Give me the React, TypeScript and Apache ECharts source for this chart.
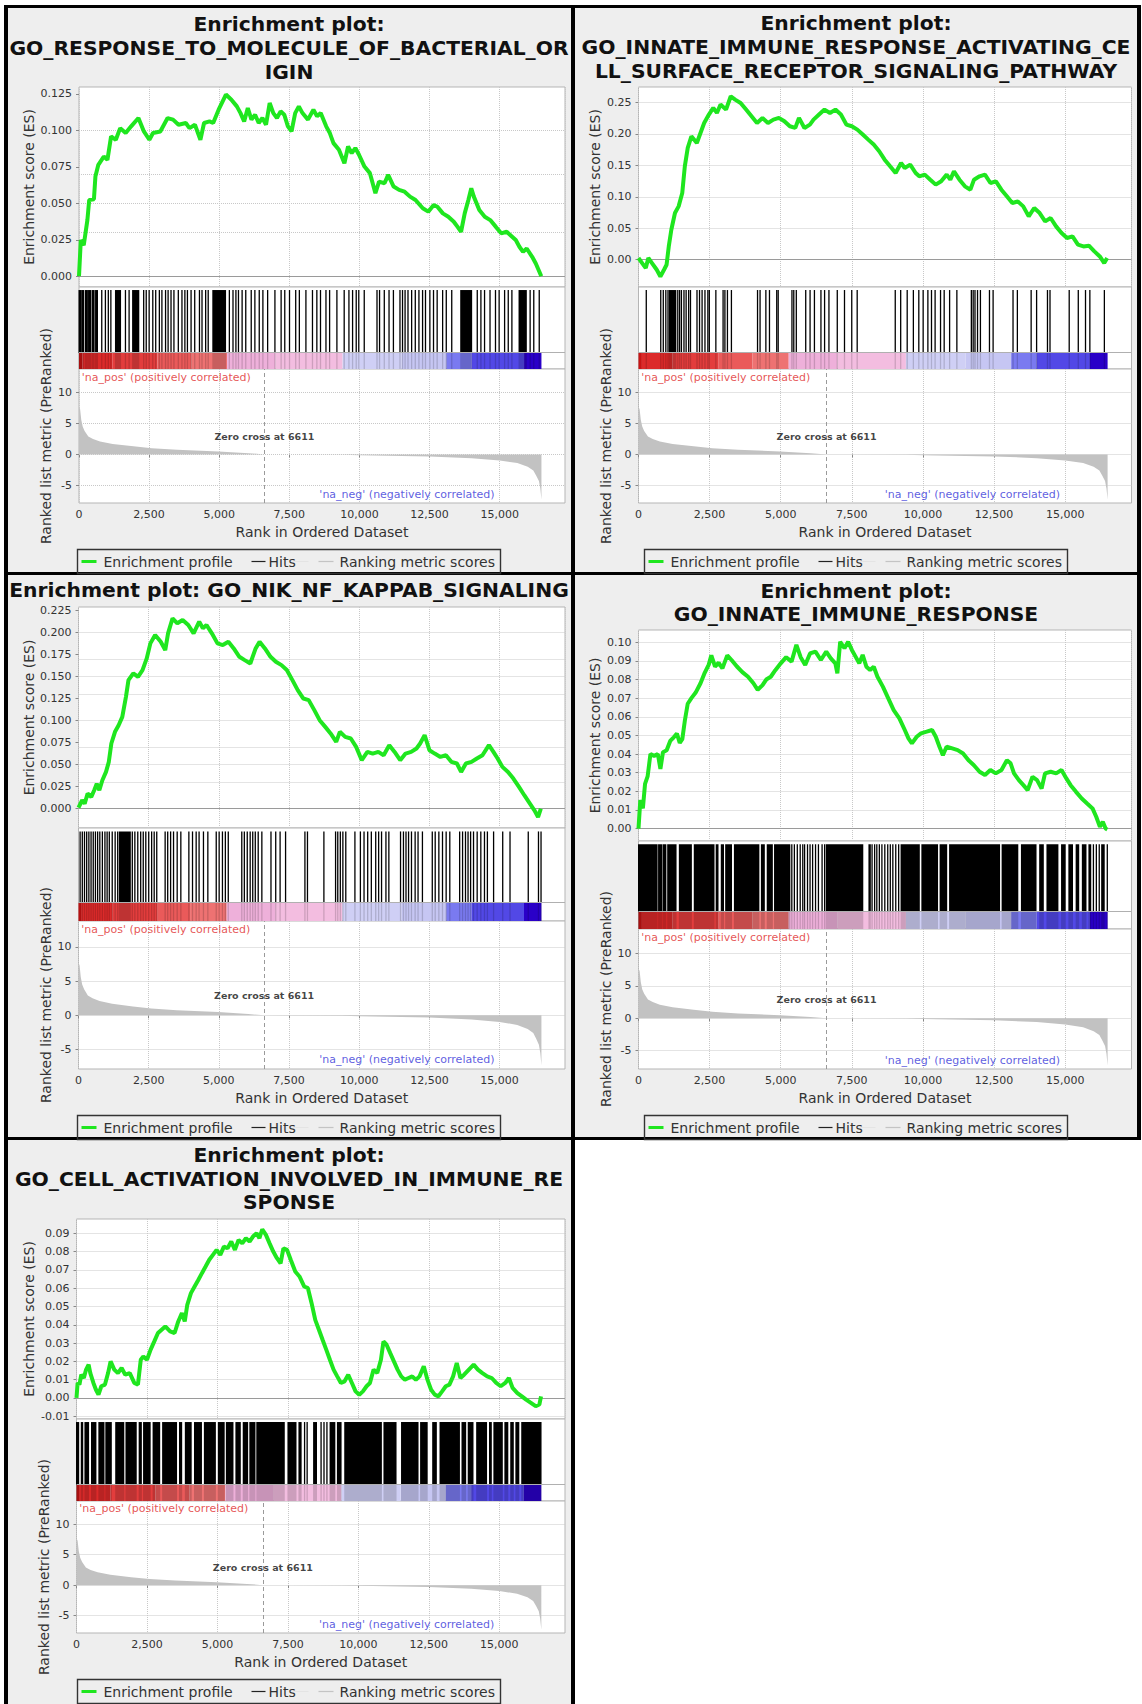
import React, { useEffect, useRef } from 'react';
import * as echarts from 'echarts';

const FONT = "'DejaVu Sans', 'Liberation Sans', sans-serif";
const GREEN = '#1fe61f';
const GRID_LINE = '#c8c8c8';
const TEXT = '#333333';

const X_MAX = 17330;
const X_TICKS = [0, 2500, 5000, 7500, 10000, 12500, 15000];
const RANK_RANGE = [-7.85, 13.8];
const RANK_TICKS = [-5, 0, 5, 10];
const ZERO_CROSS = 6611;

// ranked list metric (same ranking in every plot)
const METRIC_RANK = [0, 40, 80, 131, 200, 333, 500, 750, 1200, 1940, 2595, 3500, 4976, 6048, 6611, 7500, 9400, 10000, 11000, 12500, 14000, 15000, 15630, 16000, 16200, 16300, 16400, 16450, 16490];
const METRIC_VALUE = [7.7, 7.3, 5.6, 4.5, 3.8, 2.9, 2.5, 2.1, 1.7, 1.3, 1.0, 0.75, 0.48, 0.2, 0, -0.01, -0.05, -0.12, -0.2, -0.32, -0.6, -0.97, -1.4, -2.0, -2.6, -3.4, -4.3, -5.5, -7.3];

// colour bar of the ranked list
const BAR_FROM = [0, 120, 1200, 2800, 4000, 5280, 7000, 9400, 11500, 13100, 14000, 15870];
const BAR_TO = [120, 1200, 2800, 4000, 5280, 7000, 9400, 11500, 13100, 14000, 15870, 16490];
const BAR_COLORS = ['#c81414', '#dc2a2a', '#e33d3d', '#ea5a5a', '#ee7272', '#eeb0da', '#f3bde0', '#cfcff5', '#c6c6f3', '#7a7af0', '#5248e6', '#2a00c8'];

const NA_POS_TEXT = "'na_pos' (positively correlated)";
const NA_NEG_TEXT = "'na_neg' (negatively correlated)";
const ZERO_TEXT = 'Zero cross at ' + ZERO_CROSS;

// ---------- panel 1
const P1_TITLE = ['Enrichment plot:', 'GO_RESPONSE_TO_MOLECULE_OF_BACTERIAL_OR', 'IGIN'];
const P1_RANGE = [-0.0074, 0.1298];
const P1_TICKS = [0, 0.025, 0.05, 0.075, 0.1, 0.125];
const P1_CURVE = [[0,0],[65,0.0248],[169,0.0213],[299,0.0385],[364,0.0523],[533,0.0528],[585,0.0684],[689,0.0764],[884,0.0821],[1014,0.0798],[1144,0.0959],[1313,0.0936],[1469,0.1016],[1664,0.0982],[1859,0.1028],[2119,0.1085],[2314,0.0993],[2509,0.0936],[2639,0.0982],[2899,0.0993],[3159,0.1085],[3354,0.1074],[3549,0.1039],[3809,0.1051],[3939,0.1016],[4134,0.1039],[4329,0.0936],[4459,0.1051],[4654,0.1062],[4784,0.1051],[4979,0.1142],[5239,0.1246],[5434,0.1211],[5629,0.1165],[5759,0.1119],[5889,0.1062],[6019,0.1154],[6149,0.1074],[6279,0.1108],[6409,0.1051],[6539,0.1085],[6669,0.1039],[6799,0.1188],[6929,0.1119],[7059,0.1085],[7189,0.1131],[7319,0.1108],[7449,0.1028],[7579,0.0993],[7709,0.1119],[7839,0.1165],[7969,0.1119],[8164,0.1074],[8359,0.1142],[8489,0.1097],[8619,0.1119],[8814,0.1028],[8944,0.0982],[9074,0.0913],[9269,0.0867],[9464,0.0775],[9594,0.089],[9724,0.0844],[9854,0.0879],[9984,0.0833],[10179,0.0752],[10374,0.0707],[10569,0.0569],[10699,0.0649],[10894,0.0638],[11024,0.0695],[11219,0.0615],[11414,0.0592],[11609,0.058],[11804,0.0546],[11999,0.0523],[12259,0.0466],[12454,0.0443],[12649,0.0489],[12779,0.0477],[12974,0.0431],[13169,0.0408],[13364,0.0374],[13494,0.034],[13624,0.0305],[13754,0.0431],[13884,0.0523],[13988,0.0603],[14079,0.0546],[14274,0.0454],[14469,0.0408],[14664,0.0385],[14859,0.034],[15054,0.0294],[15249,0.0305],[15444,0.0271],[15574,0.0248],[15704,0.0202],[15834,0.0167],[15964,0.019],[16159,0.0133],[16289,0.0087],[16393,0.0041],[16484,0]];
const P1_HITS = [[0,80],[110,170],[230,300],[340,420],[470,540],[590,660],806,936,1040,1131,[1300,1482],1651,1781,[1911,2132],2301,2392,2496,2626,2730,2860,2951,3081,3172,3276,3380,3536,3666,3770,3861,3991,4121,4290,4381,4511,4602,[4771,5226],5356,5486,5590,5681,5811,5941,6136,6266,6422,6552,6721,6981,7202,7332,7501,7722,7852,8086,8320,8476,8606,8801,8931,9191,9451,9620,9750,9880,9971,10166,10621,10712,10881,11050,11206,11440,11531,11622,11726,11856,11986,12116,12246,12350,12506,12636,12766,12961,13091,13286,[13611,14001],14196,14326,14456,14651,14846,14976,15171,15301,15431,[15691,15951],16081,16211,16406];

// ---------- panel 2
const P2_TITLE = ['Enrichment plot:', 'GO_INNATE_IMMUNE_RESPONSE_ACTIVATING_CE', 'LL_SURFACE_RECEPTOR_SIGNALING_PATHWAY'];
const P2_RANGE = [-0.0433, 0.2744];
const P2_TICKS = [0, 0.05, 0.1, 0.15, 0.2, 0.25];
const P2_CURVE = [[0,0.0027],[128,-0.0053],[256,-0.0133],[346,0.0027],[474,-0.0053],[641,-0.0159],[769,-0.0265],[897,-0.0159],[987,-0.008],[1064,0.0212],[1154,0.0477],[1282,0.0742],[1410,0.0848],[1538,0.106],[1628,0.1484],[1731,0.1776],[1859,0.1961],[2051,0.1855],[2179,0.2014],[2308,0.2173],[2474,0.2306],[2628,0.2412],[2756,0.2332],[2884,0.2465],[3077,0.2385],[3243,0.2597],[3397,0.2544],[3589,0.2491],[3782,0.2385],[3974,0.2279],[4166,0.2173],[4358,0.2253],[4551,0.2173],[4743,0.2226],[4935,0.2253],[5128,0.22],[5320,0.212],[5512,0.2094],[5641,0.2253],[5833,0.2094],[6025,0.2147],[6153,0.2226],[6346,0.2306],[6538,0.2385],[6730,0.2332],[6922,0.2385],[7115,0.2306],[7307,0.2147],[7499,0.212],[7692,0.2067],[7884,0.1988],[8076,0.1908],[8268,0.1829],[8461,0.1723],[8653,0.159],[8845,0.1484],[9038,0.1378],[9230,0.1537],[9358,0.1458],[9551,0.1511],[9743,0.1378],[9871,0.1325],[10063,0.1352],[10256,0.1272],[10448,0.1193],[10640,0.1246],[10833,0.1352],[10961,0.1272],[11089,0.1405],[11282,0.1272],[11474,0.1166],[11666,0.1113],[11794,0.1272],[11987,0.1325],[12179,0.1352],[12371,0.1219],[12564,0.1246],[12756,0.1113],[12948,0.1007],[13140,0.0901],[13333,0.0927],[13525,0.0848],[13717,0.0689],[13910,0.0822],[14102,0.0742],[14294,0.061],[14486,0.0663],[14679,0.053],[14871,0.0424],[15063,0.0345],[15256,0.0371],[15448,0.0239],[15640,0.0212],[15832,0.0223],[16025,0.0133],[16217,0.0053],[16371,-0.0053],[16474,0.0027]];
const P2_HITS = [268,777,866,955,1032,[1083,1312],1376,1440,1503,1593,1669,1758,1822,2051,2140,2230,2331,2433,2484,2714,2968,3032,3121,3261,4179,4268,4472,4599,4854,4905,5389,5453,5542,5873,6026,6179,6408,6536,6689,6982,7236,7491,7682,9020,9211,9440,9657,9848,10001,10167,10294,10421,10612,10740,10931,11186,11695,11759,11823,11912,12014,12332,12460,13160,13313,13797,13989,14371,14460,15135,15454,15708,15861,16371];

// ---------- panel 3
const P3_TITLE = ['Enrichment plot: GO_NIK_NF_KAPPAB_SIGNALING'];
const P3_RANGE = [-0.022, 0.2289];
const P3_TICKS = [0, 0.025, 0.05, 0.075, 0.1, 0.125, 0.15, 0.175, 0.2, 0.225];
const P3_CURVE = [[0,0.0011],[130,0.0095],[221,0.0057],[325,0.0171],[455,0.0133],[560,0.0209],[650,0.0284],[742,0.0209],[850,0.0322],[980,0.0417],[1080,0.0531],[1170,0.0739],[1300,0.0872],[1430,0.0947],[1560,0.1042],[1690,0.1269],[1780,0.1459],[1950,0.1535],[2120,0.1497],[2280,0.1573],[2430,0.1705],[2560,0.1876],[2730,0.1971],[2930,0.1895],[3090,0.18],[3190,0.199],[3350,0.2161],[3520,0.2104],[3710,0.2142],[3910,0.2085],[4100,0.199],[4300,0.2123],[4430,0.2047],[4560,0.2085],[4750,0.199],[4950,0.1876],[5140,0.1857],[5340,0.1895],[5530,0.1819],[5730,0.1724],[5920,0.1686],[6120,0.1648],[6310,0.1819],[6450,0.1895],[6640,0.1819],[6840,0.1724],[7030,0.1667],[7230,0.1629],[7420,0.1573],[7620,0.1459],[7810,0.1345],[8010,0.125],[8200,0.1232],[8400,0.1118],[8590,0.1004],[8790,0.0928],[8980,0.0853],[9180,0.0758],[9310,0.0872],[9500,0.0815],[9700,0.0796],[9890,0.0701],[10090,0.055],[10290,0.0644],[10480,0.0625],[10680,0.0644],[10870,0.0606],[11070,0.072],[11260,0.0644],[11460,0.055],[11650,0.0625],[11850,0.0644],[12040,0.0682],[12170,0.0739],[12330,0.0834],[12500,0.0663],[12690,0.0625],[12890,0.0587],[13090,0.0606],[13280,0.0531],[13480,0.0512],[13630,0.0417],[13800,0.0512],[14000,0.0531],[14190,0.0569],[14390,0.0606],[14620,0.072],[14780,0.0644],[14930,0.0569],[15100,0.0474],[15300,0.0417],[15490,0.0341],[15690,0.0246],[15880,0.0152],[16080,0.0057],[16240,-0.0019],[16370,-0.0095],[16470,0]];
const P3_HITS = [52,130,208,286,364,442,520,598,676,754,845,936,1014,1092,1196,1300,1391,[1456,1846],1911,2002,2106,2210,2301,2392,2496,2600,2691,2782,3081,3172,3276,3380,3510,3640,3926,4056,4186,4290,4446,4602,4901,5005,5122,5226,5330,5811,5902,6006,6110,6201,6292,6396,6526,6851,7020,7176,7371,8060,8151,8736,9152,9230,9321,9412,9516,9841,10036,10166,10296,10426,10582,10686,10790,10946,11050,11466,11570,11661,11752,11856,11986,12090,12246,12597,12701,12831,12961,13091,13221,13572,13676,13780,13871,13962,14066,14196,14326,14456,14560,14781,15106,15366,16016,16380,16471];

// ---------- panel 4
const P4_TITLE = ['Enrichment plot:', 'GO_INNATE_IMMUNE_RESPONSE'];
const P4_RANGE = [-0.0067, 0.1066];
const P4_TICKS = [0, 0.01, 0.02, 0.03, 0.04, 0.05, 0.06, 0.07, 0.08, 0.09, 0.1];
const P4_CURVE = [[0,0],[64,0.0152],[154,0.0108],[230,0.024],[320,0.028],[420,0.04],[550,0.039],[680,0.04],[770,0.032],[860,0.041],[990,0.042],[1115,0.047],[1240,0.049],[1350,0.051],[1450,0.046],[1540,0.048],[1630,0.058],[1730,0.067],[1860,0.07],[2010,0.073],[2180,0.078],[2310,0.083],[2470,0.088],[2560,0.093],[2690,0.087],[2820,0.089],[2950,0.086],[3120,0.093],[3270,0.0905],[3460,0.087],[3650,0.084],[3850,0.0815],[4040,0.078],[4190,0.0745],[4360,0.077],[4490,0.08],[4650,0.0815],[4810,0.085],[5000,0.0887],[5190,0.092],[5380,0.0896],[5550,0.0986],[5700,0.092],[5860,0.0878],[6030,0.094],[6220,0.095],[6410,0.0905],[6600,0.095],[6760,0.0914],[6920,0.0887],[6990,0.0833],[7090,0.1003],[7240,0.0968],[7370,0.1003],[7500,0.0959],[7630,0.0923],[7760,0.0887],[7880,0.0932],[8010,0.0869],[8140,0.0851],[8270,0.0869],[8400,0.0815],[8590,0.0762],[8780,0.0699],[8970,0.0636],[9170,0.0591],[9360,0.0529],[9490,0.0484],[9610,0.0457],[9780,0.0493],[9930,0.0511],[10130,0.052],[10320,0.0529],[10450,0.0493],[10580,0.0439],[10700,0.0394],[10830,0.0439],[11030,0.043],[11220,0.0421],[11410,0.0403],[11600,0.0367],[11790,0.034],[11990,0.0305],[12180,0.0287],[12370,0.0314],[12560,0.0296],[12760,0.0314],[12950,0.0367],[13080,0.035],[13200,0.0296],[13370,0.026],[13530,0.0233],[13680,0.0206],[13850,0.0278],[14010,0.026],[14170,0.0215],[14290,0.0296],[14490,0.0305],[14680,0.0296],[14870,0.0314],[15040,0.0269],[15190,0.0233],[15380,0.0197],[15580,0.0161],[15770,0.0134],[15960,0.0108],[16090,0.0063],[16220,0.0009],[16320,0.0036],[16420,0],[16480,-0.0005]];
const P4_HITS = [[0,654],[705,808],[859,962],[1026,1320],[1436,1859],[1961,2654],[2731,2795],[2910,2987],[3064,3269],[3372,4231],[4320,4423],[4525,4705],[4782,5320],5384,5474,5577,5679,5769,5833,5936,6025,6115,6218,6320,6448,6538,[6602,7884],[8100,8150],8205,8295,8372,8461,8551,8653,8756,8846,8935,9038,9140,[9230,9871],[9961,10512],[10602,10833],[10935,12692],[12782,13333],[13461,13974],[14102,14230],[14358,14743],[14871,15000],[15128,15256],[15384,15474],[15602,15730],[15833,15897],15986,16089,16191,[16281,16371],16474];

// ---------- panel 5
const P5_TITLE = ['Enrichment plot:', 'GO_CELL_ACTIVATION_INVOLVED_IN_IMMUNE_RE', 'SPONSE'];
const P5_RANGE = [-0.0115, 0.0978];
const P5_TICKS = [-0.01, 0, 0.01, 0.02, 0.03, 0.04, 0.05, 0.06, 0.07, 0.08, 0.09];
const P5_CURVE = [[0,0],[40,0.0082],[104,0.0073],[170,0.0127],[260,0.0109],[340,0.0155],[430,0.0182],[490,0.0136],[600,0.0082],[690,0.0045],[780,0.0018],[880,0.0064],[1010,0.0073],[1120,0.0136],[1210,0.02],[1340,0.0155],[1470,0.0136],[1600,0.0164],[1730,0.0127],[1890,0.0136],[2050,0.0082],[2180,0.0073],[2280,0.0209],[2370,0.0227],[2500,0.0209],[2630,0.0264],[2760,0.0309],[2890,0.0355],[3020,0.0373],[3150,0.0391],[3320,0.0364],[3480,0.0355],[3610,0.0418],[3740,0.0464],[3840,0.0418],[3930,0.0509],[4060,0.0573],[4190,0.0609],[4320,0.0645],[4450,0.0682],[4580,0.0718],[4710,0.0755],[4840,0.0782],[4970,0.0809],[5100,0.0782],[5230,0.0827],[5360,0.0818],[5490,0.0855],[5620,0.0809],[5750,0.0864],[5880,0.0845],[6010,0.0873],[6140,0.0855],[6260,0.0882],[6390,0.09],[6490,0.0873],[6590,0.0922],[6720,0.0891],[6850,0.0845],[6980,0.08],[7110,0.0764],[7240,0.0736],[7340,0.0818],[7470,0.0809],[7600,0.0755],[7760,0.0691],[7910,0.0664],[8080,0.0609],[8210,0.06],[8340,0.0518],[8470,0.0427],[8600,0.0373],[8730,0.0318],[8860,0.0264],[8990,0.0209],[9120,0.0155],[9250,0.0118],[9380,0.0082],[9510,0.0091],[9640,0.0127],[9770,0.0082],[9900,0.0036],[10030,0.0018],[10160,0.0036],[10290,0.0064],[10410,0.0082],[10540,0.0155],[10670,0.0136],[10800,0.0209],[10890,0.0309],[11000,0.0291],[11130,0.0245],[11260,0.02],[11390,0.0155],[11520,0.0118],[11650,0.01],[11780,0.0109],[11910,0.0118],[12040,0.01],[12170,0.0118],[12320,0.0173],[12450,0.01],[12580,0.0045],[12710,0.0018],[12840,0.0009],[12970,0.0036],[13100,0.0064],[13230,0.0073],[13360,0.0118],[13490,0.0191],[13620,0.0109],[13750,0.0127],[13920,0.0155],[14090,0.0182],[14240,0.0155],[14400,0.0136],[14570,0.0118],[14730,0.0109],[14890,0.0082],[15050,0.0064],[15210,0.0082],[15340,0.0109],[15470,0.0055],[15640,0.0027],[15800,0.0009],[15950,-0.0009],[16120,-0.0027],[16290,-0.0045],[16420,-0.0036],[16480,0.0009]];
const P5_HITS = [[0,78],[169,221],[299,429],[533,689],[793,975],[1040,1235],[1391,1677],[1755,2119],[2223,2301],[2379,2613],[2717,2951],[3055,3549],[3653,3731],[3861,4069],[4186,4433],[4537,4927],[5031,5239],[5317,5551],[5655,5811],[5915,6071],[6149,6331],[6396,7371],[7501,7787],[7891,7969],8086,8177,[8411,8515],8671,8775,8879,[8996,9165],[9256,9386],[9516,10816],[10907,11336],[11531,12116],[12207,12441],[12636,12766],[12896,13585],[13676,13806],[13897,14066],[14196,14547],[14651,14716],[14807,15106],[15197,15301],[15405,15496],[15587,15691],[15795,16480]];

// ---------- layout (pixels)
const LAYOUTS = [
  { cx: 289, titleY: [24, 48, 71.5], left: 79, right: 565, esTop: 87, esBot: 287, hitsBot: 369, rankBot: 503, esNameX: 28.5 },
  { cx: 856, titleY: [23, 47, 71], left: 638.5, right: 1131.5, esTop: 87, esBot: 287, hitsBot: 369, rankBot: 503, esNameX: 594.7 },
  { cx: 289, titleY: [590], left: 78.5, right: 565, esTop: 607, esBot: 828, hitsBot: 921, rankBot: 1069, esNameX: 28.5 },
  { cx: 856, titleY: [591, 614], left: 638.5, right: 1131.5, esTop: 630, esBot: 841, hitsBot: 929, rankBot: 1069, esNameX: 594.7 },
  { cx: 289, titleY: [1155, 1178.5, 1202], left: 76.5, right: 565, esTop: 1219, esBot: 1419, hitsBot: 1501, rankBot: 1633, esNameX: 28.5 },
];

const PANELS = [
  { title: P1_TITLE, curve: P1_CURVE, hits: P1_HITS, range: P1_RANGE, ticks: P1_TICKS, dec: 3 },
  { title: P2_TITLE, curve: P2_CURVE, hits: P2_HITS, range: P2_RANGE, ticks: P2_TICKS, dec: 2 },
  { title: P3_TITLE, curve: P3_CURVE, hits: P3_HITS, range: P3_RANGE, ticks: P3_TICKS, dec: 3 },
  { title: P4_TITLE, curve: P4_CURVE, hits: P4_HITS, range: P4_RANGE, ticks: P4_TICKS, dec: 2 },
  { title: P5_TITLE, curve: P5_CURVE, hits: P5_HITS, range: P5_RANGE, ticks: P5_TICKS, dec: 2 },
];

const PANEL_BG = [
  [8, 8, 563, 564], [575, 8, 562, 564], [8, 575, 563, 562], [575, 575, 562, 562], [8, 1140, 563, 564],
];
const BORDERS = [
  [4, 5, 1137, 3], [4, 5, 4, 1699], [571, 5, 4, 1699], [1137, 5, 4, 1135], [4, 572, 1137, 3], [4, 1137, 1137, 3],
];

// fractions of the hits strip
const CB_TOP = 0.195;
const BAR_TOP = 0.963;

const fmtThousands = (v: number) => String(Math.round(v)).replace(/\B(?=(\d{3})+(?!\d))/g, ',');

function buildOption() {
  const grid: any[] = [];
  const xAxis: any[] = [];
  const yAxis: any[] = [];
  const series: any[] = [];
  const elements: any[] = [];
  const barSegs = BAR_FROM.map((f, i) => [f, BAR_TO[i], i]);
  const metric = METRIC_RANK.map((r, i) => [r, METRIC_VALUE[i]]);
  const dotted = { show: true, lineStyle: { color: GRID_LINE, type: 'dotted', width: 1 } };
  const nameStyle = { fontSize: 14, color: TEXT, fontFamily: FONT };
  const labelStyle = { fontSize: 11, color: TEXT, fontFamily: FONT };

  PANELS.forEach((p, i) => {
    const L = LAYOUTS[i];
    const w = L.right - L.left;
    const g = i * 3;
    const base = { show: true, backgroundColor: '#ffffff', borderColor: '#b5b5b5', borderWidth: 1, containLabel: false, outerBoundsMode: 'none', left: L.left, width: w };
    grid.push({ ...base, top: L.esTop, height: L.esBot - L.esTop });
    grid.push({ ...base, top: L.esBot, height: L.hitsBot - L.esBot });
    grid.push({ ...base, top: L.hitsBot, height: L.rankBot - L.hitsBot });

    // ES axes
    xAxis.push({ gridIndex: g, type: 'value', min: 0, max: X_MAX, interval: 2500, axisLine: { show: false }, axisTick: { show: false }, axisLabel: { show: false }, splitLine: dotted });
    yAxis.push({
      gridIndex: g, type: 'value', min: p.range[0], max: p.range[1],
      axisLine: { show: false },
      axisTick: { show: true, length: 3, customValues: p.ticks, lineStyle: { color: '#888' } },
      axisLabel: { ...labelStyle, customValues: p.ticks, margin: 7, formatter: (v: number) => v.toFixed(p.dec) },
      splitLine: { show: false },
      name: 'Enrichment score (ES)', nameLocation: 'middle', nameGap: L.left - L.esNameX - 7.5, nameMoveOverlap: false, nameTextStyle: nameStyle,
    });
    // hits axes
    xAxis.push({ gridIndex: g + 1, type: 'value', min: 0, max: X_MAX, show: false });
    yAxis.push({ gridIndex: g + 1, type: 'value', min: 0, max: 1, show: false });
    // ranked metric axes
    xAxis.push({
      gridIndex: g + 2, type: 'value', min: 0, max: X_MAX, interval: 2500,
      axisLine: { show: false },
      axisTick: { show: true, length: 3, customValues: X_TICKS, lineStyle: { color: '#888' } },
      axisLabel: { ...labelStyle, customValues: X_TICKS, margin: 6, formatter: fmtThousands },
      splitLine: dotted,
      name: 'Rank in Ordered Dataset', nameLocation: 'middle', nameGap: 22, nameMoveOverlap: false, nameTextStyle: nameStyle,
    });
    yAxis.push({
      gridIndex: g + 2, type: 'value', min: RANK_RANGE[0], max: RANK_RANGE[1],
      axisLine: { show: false },
      axisTick: { show: true, length: 3, customValues: RANK_TICKS, lineStyle: { color: '#888' } },
      axisLabel: { ...labelStyle, customValues: RANK_TICKS, margin: 7, formatter: (v: number) => String(v) },
      splitLine: { show: false },
      name: 'Ranked list metric (PreRanked)', nameLocation: 'middle', nameGap: 26, nameMoveOverlap: false, nameTextStyle: nameStyle,
    });

    // enrichment profile
    series.push({
      type: 'line', xAxisIndex: g, yAxisIndex: g, data: p.curve, showSymbol: false, symbol: 'none', silent: true, z: 4,
      lineStyle: { color: GREEN, width: 4 },
      markLine: {
        silent: true, z: 1, symbol: ['none', 'none'], label: { show: false }, animation: false,
        data: [
          ...p.ticks.filter((t) => t !== 0).map((t) => ({ yAxis: t, lineStyle: { color: GRID_LINE, type: 'dotted', width: 1 } })),
          { yAxis: 0, lineStyle: { color: '#9a9a9a', type: 'solid', width: 1 } },
        ],
      },
    });

    // colour bar
    series.push({
      type: 'custom', xAxisIndex: g + 1, yAxisIndex: g + 1, data: barSegs, silent: true, z: 2,
      renderItem: (_params: any, api: any) => {
        const s = api.coord([api.value(0), CB_TOP]);
        const e = api.coord([api.value(1), 0]);
        return { type: 'rect', shape: { x: s[0], y: s[1], width: e[0] - s[0], height: e[1] - s[1] }, style: { fill: BAR_COLORS[api.value(2)] } };
      },
      markLine: {
        silent: true, symbol: ['none', 'none'], label: { show: false }, animation: false,
        data: [{ yAxis: CB_TOP, lineStyle: { color: '#b0b0b0', type: 'solid', width: 1 } }],
      },
    });

    // hits
    const hitData = p.hits.map((h: any) => (Array.isArray(h) ? h : [h, h]));
    series.push({
      type: 'custom', xAxisIndex: g + 1, yAxisIndex: g + 1, data: hitData, silent: true, z: 3,
      renderItem: (_params: any, api: any) => {
        const top = api.coord([api.value(0), BAR_TOP]);
        const mid = api.coord([api.value(1), CB_TOP]);
        const bot = api.coord([api.value(1), 0]);
        const wd = Math.max(1.3, mid[0] - top[0] + 1);
        const x = top[0] - 0.5;
        return {
          type: 'group',
          children: [
            { type: 'rect', shape: { x, y: top[1], width: wd, height: mid[1] - top[1] }, style: { fill: '#000000' } },
            { type: 'rect', shape: { x, y: mid[1], width: wd, height: bot[1] - mid[1] }, style: { fill: 'rgba(0,0,0,0.16)' } },
          ],
        };
      },
    });

    // ranking metric scores
    series.push({
      type: 'line', xAxisIndex: g + 2, yAxisIndex: g + 2, data: metric, showSymbol: false, symbol: 'none', silent: true, z: 2,
      lineStyle: { width: 0, color: '#c0c0c0' },
      areaStyle: { color: '#c2c2c2', opacity: 1 },
      markLine: {
        silent: true, z: 1, symbol: ['none', 'none'], label: { show: false }, animation: false,
        data: RANK_TICKS.map((t) => ({ yAxis: t, lineStyle: { color: GRID_LINE, type: 'dotted', width: 1 } })),
      },
    });

    // annotations
    series.push({
      type: 'scatter', xAxisIndex: g + 2, yAxisIndex: g + 2, symbolSize: 1, silent: true, z: 10,
      itemStyle: { color: 'transparent' },
      data: [
        { value: [100, 12.5], label: { show: true, position: 'inside', align: 'left', verticalAlign: 'middle', formatter: NA_POS_TEXT, color: '#e02a2a', fontSize: 11, fontFamily: FONT } },
        { value: [14820, -6.5], label: { show: true, position: 'inside', align: 'right', verticalAlign: 'middle', formatter: NA_NEG_TEXT, color: '#3434d8', fontSize: 11, fontFamily: FONT } },
        { value: [ZERO_CROSS, 2.9], label: { show: true, position: 'inside', align: 'center', verticalAlign: 'middle', formatter: ZERO_TEXT, color: '#111111', fontSize: 9.5, fontWeight: 'bold', fontFamily: FONT } },
      ],
      markLine: {
        silent: true, z: 8, symbol: ['none', 'none'], label: { show: false }, animation: false,
        data: [{ xAxis: ZERO_CROSS, lineStyle: { color: '#9a9a9a', type: [4, 3], width: 1 } }],
      },
    });

    // title
    p.title.forEach((t, k) => {
      elements.push({
        type: 'text', x: L.cx, y: L.titleY[k], silent: true,
        style: { text: t, fill: '#111111', fontSize: 20.3, fontWeight: 'bold', fontFamily: FONT, align: 'center', verticalAlign: 'middle' },
      });
    });

    // legend
    const lx = L.cx - 211.5;
    const ly = L.rankBot + 46.5;
    const ts = { fill: TEXT, fontSize: 14, fontFamily: FONT, verticalAlign: 'middle', align: 'left' };
    elements.push({
      type: 'group', x: lx, y: ly, silent: true,
      children: [
        { type: 'rect', shape: { x: 0, y: 0, width: 423, height: 24 }, style: { fill: 'none', stroke: '#333333', lineWidth: 1.4 } },
        { type: 'line', shape: { x1: 4, y1: 12, x2: 19, y2: 12 }, style: { stroke: GREEN, lineWidth: 3 } },
        { type: 'text', x: 26, y: 12, style: { ...ts, text: 'Enrichment profile' } },
        { type: 'line', shape: { x1: 174, y1: 12, x2: 188, y2: 12 }, style: { stroke: '#222222', lineWidth: 1.2 } },
        { type: 'text', x: 191, y: 12, style: { ...ts, text: 'Hits' } },
        { type: 'line', shape: { x1: 216, y1: 12, x2: 231, y2: 12 }, style: { stroke: '#e4e4e4', lineWidth: 1 } },
        { type: 'line', shape: { x1: 241, y1: 12, x2: 256, y2: 12 }, style: { stroke: '#c4c4c4', lineWidth: 1.2 } },
        { type: 'text', x: 262, y: 12, style: { ...ts, text: 'Ranking metric scores' } },
      ],
    });
  });

  return {
    animation: false,
    backgroundColor: 'transparent',
    grid, xAxis, yAxis, series,
    graphic: { elements },
  };
}

export default function App() {
  const ref = useRef<HTMLDivElement>(null);
  useEffect(() => {
    if (!ref.current) return;
    const chart = echarts.init(ref.current, null, { renderer: 'svg', width: 1142, height: 1704 });
    chart.setOption(buildOption() as any);
    return () => chart.dispose();
  }, []);
  return (
    <div style={{ position: 'absolute', left: 0, top: 0, width: 1142, height: 1704, background: '#ffffff', overflow: 'hidden' }}>
      {PANEL_BG.map((r, i) => (
        <div key={'bg' + i} style={{ position: 'absolute', left: r[0], top: r[1], width: r[2], height: r[3], background: '#eeeeee' }} />
      ))}
      {BORDERS.map((r, i) => (
        <div key={'bd' + i} style={{ position: 'absolute', left: r[0], top: r[1], width: r[2], height: r[3], background: '#000000' }} />
      ))}
      <div ref={ref} style={{ position: 'absolute', left: 0, top: 0, width: 1142, height: 1704 }} />
    </div>
  );
}
